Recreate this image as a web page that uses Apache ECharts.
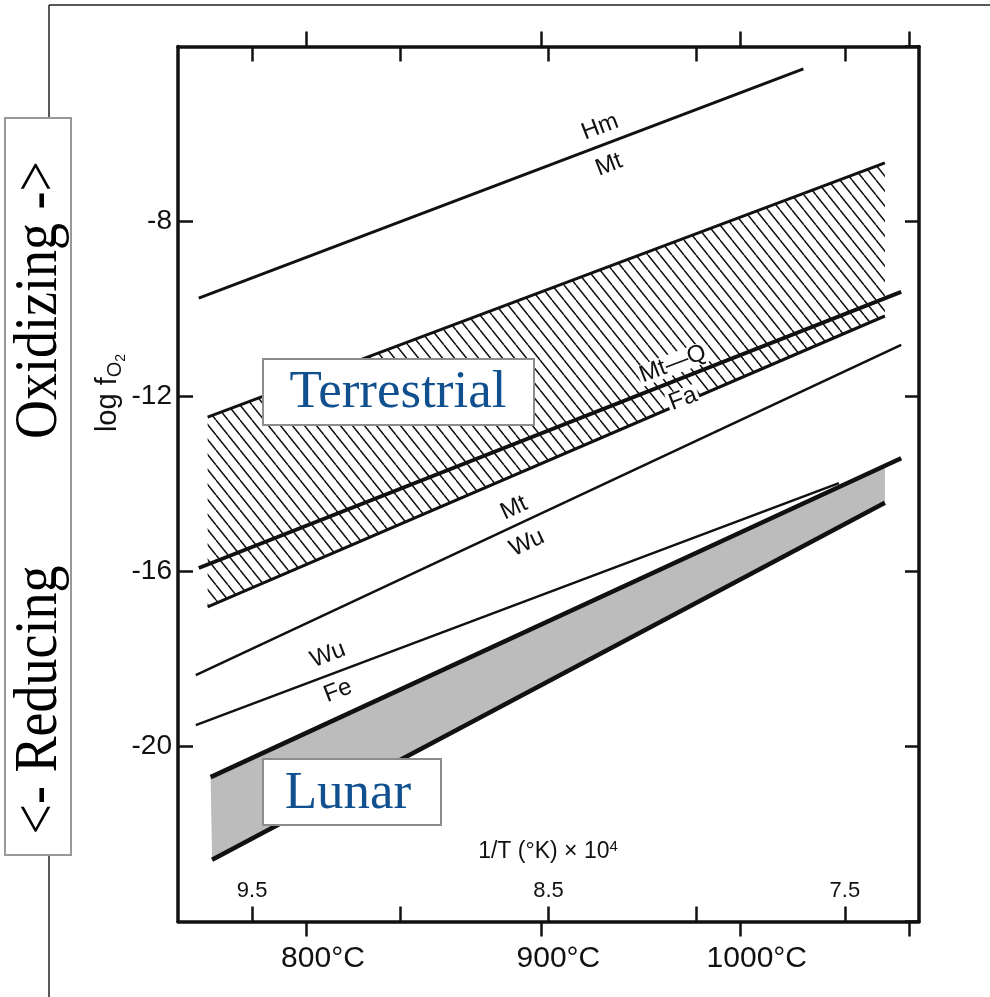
<!DOCTYPE html>
<html>
<head>
<meta charset="utf-8">
<script src="https://cdn.jsdelivr.net/npm/echarts@6/dist/echarts.min.js"></script>
<style>
html,body{margin:0;padding:0;background:#fff}
#chart{width:990px;height:997px}
</style>
</head>
<body>
<div id="chart"></div>
<script>
// 1/T (x10^4) ticks and labels
var invTicks = [7.5, 8.0, 8.5, 9.0, 9.5];
var invLabels = [7.5, 8.5, 9.5];
// temperature ticks in deg C (placed at 1e4/(C+273.15))
var celsiusTicks = [800, 900, 1000, 1100];
var celsiusLabels = [800, 900, 1000];

// buffer lines, [1/T x 10^4, log fO2]
var hmMt        = [[9.68, -9.75], [7.64, -4.51]];
var terrTop     = [[9.65, -12.47], [7.365, -6.66]];
var mtqFa       = [[9.68, -15.92], [7.31, -9.61]];
var terrBottom  = [[9.65, -16.81], [7.365, -10.16]];
var mtWu        = [[9.69, -18.37], [7.31, -10.82]];
var wuFe        = [[9.69, -19.51], [7.52, -13.98]];
var lunarTop    = [[9.64, -20.70], [7.31, -13.41]];
var lunarBottom = [[9.635, -22.59], [7.365, -14.43]];
// shaded lunar field
var lunarFillTop    = [[9.64, -20.70], [7.365, -13.58]];
var lunarFillBottom = [[9.635, -22.59], [7.365, -14.43]];

function toInv(c){ return 1e4 / (c + 273.15); }
var celsiusTickPos = celsiusTicks.map(toInv);
var celsiusLabelPos = celsiusLabels.map(toInv);

// hatch pattern for the terrestrial field
function hatch(){
  var c = document.createElement('canvas');
  c.width = 12; c.height = 15;
  var g = c.getContext('2d');
  g.strokeStyle = '#111';
  g.lineWidth = 1.5;
  g.beginPath();
  for (var k = -1; k <= 1; k++){
    g.moveTo(k * 12, 0);
    g.lineTo(k * 12 + 12, 15);
  }
  g.stroke();
  return c;
}

var SANS = "'Liberation Sans', Arial, Helvetica, sans-serif";
var SERIF = "'Liberation Serif', 'Times New Roman', serif";
var ink = '#111';

function band(top, bottom, fill){
  return {
    type: 'custom', silent: true, z: 1,
    data: [[8.5, -14]],
    renderItem: function(params, api){
      var pts = top.concat(bottom.slice().reverse()).map(function(p){ return api.coord(p); });
      return {type: 'polygon', shape: {points: pts}, style: {fill: fill, stroke: null}};
    }
  };
}
function bufLine(data, w){
  return {type: 'line', data: data, symbol: 'none', silent: true, z: 3,
    lineStyle: {color: ink, width: w, cap: 'butt'}};
}

function xAx(pos, ticks, outside, labels){
  return {
    type: 'value', position: pos, min: 7.25, max: 9.75, inverse: true,
    splitLine: {show: false},
    axisLine: {show: !outside, lineStyle: {color: ink, width: 3.5}},
    axisTick: {show: true, inside: !outside, length: 15, customValues: ticks,
      lineStyle: {color: ink, width: 2.5}},
    axisLabel: labels || {show: false}
  };
}

function tag(text, x, y, deg, bg){
  var st = {text: text, fontSize: 24, fontFamily: SANS, fill: ink, align: 'center', verticalAlign: 'middle'};
  if (bg){ st.backgroundColor = '#fff'; st.padding = [0, 2]; st.lineHeight = 21; }
  return {type: 'text', z: 101, x: x, y: y, rotation: deg * Math.PI / 180, style: st};
}

var chart = echarts.init(document.getElementById('chart'));
chart.setOption({
  animation: false,
  backgroundColor: '#fff',
  grid: {left: 178, right: 71, top: 46.5, bottom: 75.5, containLabel: false, outerBoundsMode: 'none'},
  xAxis: [
    xAx('bottom', invTicks, false, {inside: true, customValues: invLabels, margin: 20,
      fontSize: 22, fontFamily: SANS, color: ink,
      formatter: function(v){ return v.toFixed(1); }}),
    xAx('bottom', celsiusTickPos, true, {customValues: celsiusLabelPos, margin: 22,
      fontSize: 30, fontFamily: SANS, color: ink, padding: [0, 0, 0, 34],
      formatter: function(v){ return Math.round(1e4 / v - 273.15) + '°C'; }}),
    xAx('top', invTicks, false),
    xAx('top', celsiusTickPos, true)
  ],
  yAxis: [
    {type: 'value', position: 'left', min: -24, max: -4, interval: 4,
      splitLine: {show: false},
      axisLine: {show: true, lineStyle: {color: ink, width: 3.5}},
      axisTick: {inside: true, length: 15, lineStyle: {color: ink, width: 2.5}},
      axisLabel: {showMinLabel: false, showMaxLabel: false, fontSize: 28, fontFamily: SANS,
        color: ink, margin: 6}},
    {type: 'value', position: 'right', min: -24, max: -4, interval: 4,
      splitLine: {show: false},
      axisLine: {show: true, lineStyle: {color: ink, width: 3.5}},
      axisTick: {inside: true, length: 14, lineStyle: {color: ink, width: 2.5}},
      axisLabel: {show: false}}
  ],
  series: [
    band(terrTop, terrBottom, {image: hatch(), repeat: 'repeat'}),
    band(lunarFillTop, lunarFillBottom, '#bcbcbc'),
    bufLine(hmMt, 3),
    bufLine(terrTop, 3),
    bufLine(mtqFa, 4),
    bufLine(terrBottom, 3),
    bufLine(mtWu, 2.5),
    bufLine(wuFe, 2.5),
    bufLine(lunarTop, 4.5),
    bufLine(lunarBottom, 4.5)
  ],
  graphic: [
    // page edge of the scan
    {type: 'line', z: 100, shape: {x1: 49, y1: 5, x2: 990, y2: 5}, style: {stroke: '#222', lineWidth: 1.5}},
    {type: 'line', z: 100, shape: {x1: 49, y1: 5, x2: 49, y2: 118}, style: {stroke: '#222', lineWidth: 1.5}},
    {type: 'line', z: 100, shape: {x1: 49, y1: 855, x2: 49, y2: 997}, style: {stroke: '#222', lineWidth: 1.5}},
    // oxidizing / reducing box
    {type: 'rect', z: 100, shape: {x: 5, y: 118, width: 66, height: 737},
      style: {fill: '#fff', stroke: '#999', lineWidth: 2}},
    {type: 'text', z: 101, x: 40, y: 300, rotation: Math.PI / 2, scaleY: 1.15,
      style: {text: 'Oxidizing ->', fontSize: 54, fontFamily: SERIF, fill: '#000', align: 'center', verticalAlign: 'middle'}},
    {type: 'text', z: 101, x: 40, y: 700, rotation: Math.PI / 2, scaleY: 1.15,
      style: {text: '<- Reducing', fontSize: 54, fontFamily: SERIF, fill: '#000', align: 'center', verticalAlign: 'middle'}},
    // y axis title
    {type: 'text', z: 101, x: 108, y: 393, rotation: Math.PI / 2,
      style: {text: '{a|log f}{b|O}{c|2}', align: 'center', verticalAlign: 'middle',
        rich: {
          a: {fontSize: 29, fontFamily: SANS, fill: ink},
          b: {fontSize: 20, fontFamily: SANS, fill: ink, padding: [14, 0, 0, 0]},
          c: {fontSize: 14, fontFamily: SANS, fill: ink, padding: [26, 0, 0, 0]}
        }}},
    // field labels
    {type: 'rect', z: 100, shape: {x: 263, y: 359, width: 271, height: 66},
      style: {fill: '#fff', stroke: '#8c8c8c', lineWidth: 2}},
    {type: 'text', z: 101, x: 398, y: 393,
      style: {text: 'Terrestrial', fontSize: 53, fontFamily: SERIF, fill: '#10508f', align: 'center', verticalAlign: 'middle'}},
    {type: 'rect', z: 100, shape: {x: 263, y: 759, width: 178, height: 66},
      style: {fill: '#fff', stroke: '#8c8c8c', lineWidth: 2}},
    {type: 'text', z: 101, x: 348, y: 794,
      style: {text: 'Lunar', fontSize: 53, fontFamily: SERIF, fill: '#10508f', align: 'center', verticalAlign: 'middle'}},
    // x axis title
    {type: 'text', z: 101, x: 548, y: 852,
      style: {text: '{a|1/T (°K) × 10}{s|4}', align: 'center', verticalAlign: 'middle',
        rich: {a: {fontSize: 23, fontFamily: SANS, fill: ink}, s: {fontSize: 15, fontFamily: SANS, fill: ink, padding: [0, 0, 10, 0]}}}},
    // buffer labels
    tag('Hm', 600, 127, 21),
    tag('Mt', 609, 165, 21),
    tag('Mt—Q', 673, 364, 21, true),
    tag('Fa', 683, 399, 21, true),
    tag('Mt', 514, 508, 25),
    tag('Wu', 527, 543, 25),
    tag('Wu', 328, 655, 21),
    tag('Fe', 338, 691, 21)
  ]
});
</script>
</body>
</html>
